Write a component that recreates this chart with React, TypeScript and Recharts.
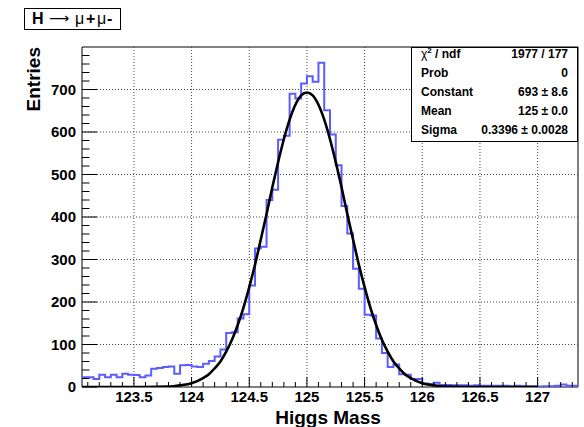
import { ComposedChart, Line, XAxis, YAxis, ReferenceLine, ReferenceArea } from "recharts";

// histogram binning (bin low edge of first bin, bin width)
const BIN_LOW = 123.05;
const BIN_WIDTH = 0.05;

// entries per bin
const COUNTS = [
  23, 23, 19, 29, 23, 29, 23, 31, 29, 28,
  23, 27, 43, 45, 47, 48, 31, 51, 52, 48,
  47, 55, 61, 72, 88, 127, 129, 161, 171, 239,
  326, 330, 440, 464, 582, 591, 690, 679, 714, 731,
  718, 763, 651, 594, 522, 426, 361, 278, 231, 170,
  168, 114, 80, 47, 53, 30, 29, 19, 19, 8,
  7, 10, 5, 5, 4, 4, 4, 3, 4, 3,
  3, 3, 3, 3, 2, 3, 2, 2, 2, 1,
  2, 2, 3, 6, 3, 3,
];

// gaussian fit curve, sampled off the plot
const FIT_X = [
  123.05, 123.6, 123.8, 123.9, 124.0, 124.1, 124.15, 124.2, 124.25, 124.3,
  124.35, 124.4, 124.45, 124.5, 124.55, 124.6, 124.65, 124.7, 124.75, 124.8,
  124.85, 124.9, 124.95, 125.0, 125.05, 125.1, 125.15, 125.2, 125.25, 125.3,
  125.35, 125.4, 125.45, 125.5, 125.55, 125.6, 125.65, 125.7, 125.75, 125.8,
  125.85, 125.9, 126.0, 126.1, 126.2, 126.4, 127.0,
];
const FIT_Y = [
  0, 0, 1, 4, 9, 21, 30, 44, 60, 83,
  111, 146, 187, 235, 288, 347, 407, 470, 529, 583,
  629, 664, 686, 693, 686, 664, 629, 583, 529, 470,
  407, 347, 288, 235, 187, 146, 111, 83, 60, 44,
  30, 21, 9, 4, 1, 0, 0,
];

const X_MAJOR = [123.5, 124, 124.5, 125, 125.5, 126, 126.5, 127];
const Y_MAJOR = [0, 100, 200, 300, 400, 500, 600, 700];

const STATS_LABELS = ["Prob", "Constant", "Mean", "Sigma"];
const STATS_VALUES = ["0", "693 \u00b1 8.6", "125 \u00b1 0.0", "0.3396 \u00b1 0.0028"];
const CHI2_NDF = "1977 / 177";

const X_DOMAIN: [number, number] = [123.05, 127.35];
const Y_DOMAIN: [number, number] = [0, 800];

const W = 584;
const H = 427;
const PLOT_LEFT = 82;
const PLOT_BOTTOM = 387;
const FONT = "'Liberation Sans', Arial, Helvetica, sans-serif";

const X_MINOR: number[] = [];
for (let k = 1231; k <= 1273; k++) X_MINOR.push(k / 10);
const Y_MINOR: number[] = [];
for (let k = 0; k <= 780; k += 20) Y_MINOR.push(k);

const isMajor = (list: number[], v: number) => list.some((m) => Math.abs(m - v) < 1e-6);

const histData = COUNTS.map((c, i) => ({ x: +(BIN_LOW + i * BIN_WIDTH).toFixed(3), y: c }));
histData.push({ x: +(BIN_LOW + COUNTS.length * BIN_WIDTH).toFixed(3), y: COUNTS[COUNTS.length - 1] });

const fitData = FIT_X.map((x, i) => ({ x, y: FIT_Y[i] }));

function XTick(props: any) {
  const { x, payload } = props;
  const major = isMajor(X_MAJOR, payload.value);
  return (
    <g>
      <line x1={x} x2={x} y1={PLOT_BOTTOM} y2={PLOT_BOTTOM - (major ? 10 : 5)} stroke="#000" strokeWidth={1} />
      {major && (
        <text x={x} y={PLOT_BOTTOM + 15} textAnchor="middle" fontFamily={FONT} fontWeight="bold" fontSize={15} fill="#000">
          {String(payload.value)}
        </text>
      )}
    </g>
  );
}

function YTick(props: any) {
  const { y, payload } = props;
  const major = isMajor(Y_MAJOR, payload.value);
  return (
    <g>
      <line x1={PLOT_LEFT} x2={PLOT_LEFT + (major ? 15 : 7.5)} y1={y} y2={y} stroke="#000" strokeWidth={1} />
      {major && (
        <text x={PLOT_LEFT - 6} y={y + 5} textAnchor="end" fontFamily={FONT} fontWeight="bold" fontSize={15} fill="#000">
          {String(payload.value)}
        </text>
      )}
    </g>
  );
}

export default function App() {
  const rowY = [58, 77, 96, 115, 134];
  return (
    <div style={{ position: "absolute", left: 0, top: 0, width: W, height: H, background: "#fff" }}>
      <ComposedChart width={W} height={H} margin={{ top: 47, right: 6, bottom: 0, left: 0 }}>
        <XAxis
          type="number"
          dataKey="x"
          domain={X_DOMAIN}
          ticks={X_MINOR}
          interval={0}
          tick={<XTick />}
          tickLine={false}
          axisLine={false}
          height={40}
          allowDataOverflow
        />
        <YAxis
          type="number"
          domain={Y_DOMAIN}
          ticks={Y_MINOR}
          interval={0}
          tick={<YTick />}
          tickLine={false}
          axisLine={false}
          width={PLOT_LEFT}
          allowDataOverflow
        />
        {X_MAJOR.map((v) => (
          <ReferenceLine key={"gx" + v} x={v} stroke="#444" strokeDasharray="1 2" />
        ))}
        {Y_MAJOR.filter((v) => v > 0).map((v) => (
          <ReferenceLine key={"gy" + v} y={v} stroke="#444" strokeDasharray="1 2" />
        ))}
        <Line
          data={histData}
          dataKey="y"
          type="stepAfter"
          stroke="#5c5cff"
          strokeWidth={2}
          dot={false}
          activeDot={false}
          isAnimationActive={false}
        />
        <Line
          data={fitData}
          dataKey="y"
          type="monotone"
          stroke="#000"
          strokeWidth={2.6}
          dot={false}
          activeDot={false}
          isAnimationActive={false}
        />
        <ReferenceArea
          x1={X_DOMAIN[0]}
          x2={X_DOMAIN[1]}
          y1={Y_DOMAIN[0]}
          y2={Y_DOMAIN[1]}
          fill="none"
          fillOpacity={0}
          stroke="#000"
          strokeWidth={1}
        />
      </ComposedChart>
      <svg width={W} height={H} style={{ position: "absolute", left: 0, top: 0, pointerEvents: "none" }}>
        {/* title box */}
        <rect x={24.5} y={8.5} width={96} height={21} fill="#fff" stroke="#000" strokeWidth={1} />
        <text y={24} fontFamily={FONT} fontSize={16} fill="#000">
          <tspan x={32} fontWeight="bold">H</tspan>
          <tspan x={49} fontFamily="'DejaVu Sans', sans-serif" fontSize={14} dy={-1}>{"\u27f6"}</tspan>
          <tspan x={75} dy={1}>{"\u03bc"}</tspan>
          <tspan x={86} fontWeight="bold">+</tspan>
          <tspan x={97}>{"\u03bc"}</tspan>
          <tspan x={107} fontWeight="bold">-</tspan>
        </text>
        {/* stats box */}
        <rect x={411.5} y={47.5} width={166} height={94} fill="#fff" stroke="#000" strokeWidth={1} />
        <text x={421} y={rowY[0]} fontFamily={FONT} fontSize={12} fontWeight="bold" fill="#000">
          <tspan fontWeight="normal">{"\u03c7"}</tspan>
          <tspan dy={-5} fontSize={8}>2</tspan>
          <tspan dy={5}> / ndf</tspan>
        </text>
        <text x={568} y={rowY[0]} textAnchor="end" fontFamily={FONT} fontSize={12} fontWeight="bold" fill="#000">
          {CHI2_NDF}
        </text>
        {STATS_LABELS.map((l, i) => (
          <g key={l}>
            <text x={421} y={rowY[i + 1]} fontFamily={FONT} fontSize={12} fontWeight="bold" fill="#000">
              {l}
            </text>
            <text x={568} y={rowY[i + 1]} textAnchor="end" fontFamily={FONT} fontSize={12} fontWeight="bold" fill="#000">
              {STATS_VALUES[i]}
            </text>
          </g>
        ))}
        {/* axis titles */}
        <text
          x={40}
          y={47}
          transform="rotate(-90 40 47)"
          textAnchor="end"
          fontFamily={FONT}
          fontSize={19}
          fontWeight="bold"
          fill="#000"
        >
          Entries
        </text>
        <text x={328} y={424} textAnchor="middle" fontFamily={FONT} fontSize={19} fontWeight="bold" fill="#000">
          Higgs Mass
        </text>
      </svg>
    </div>
  );
}
